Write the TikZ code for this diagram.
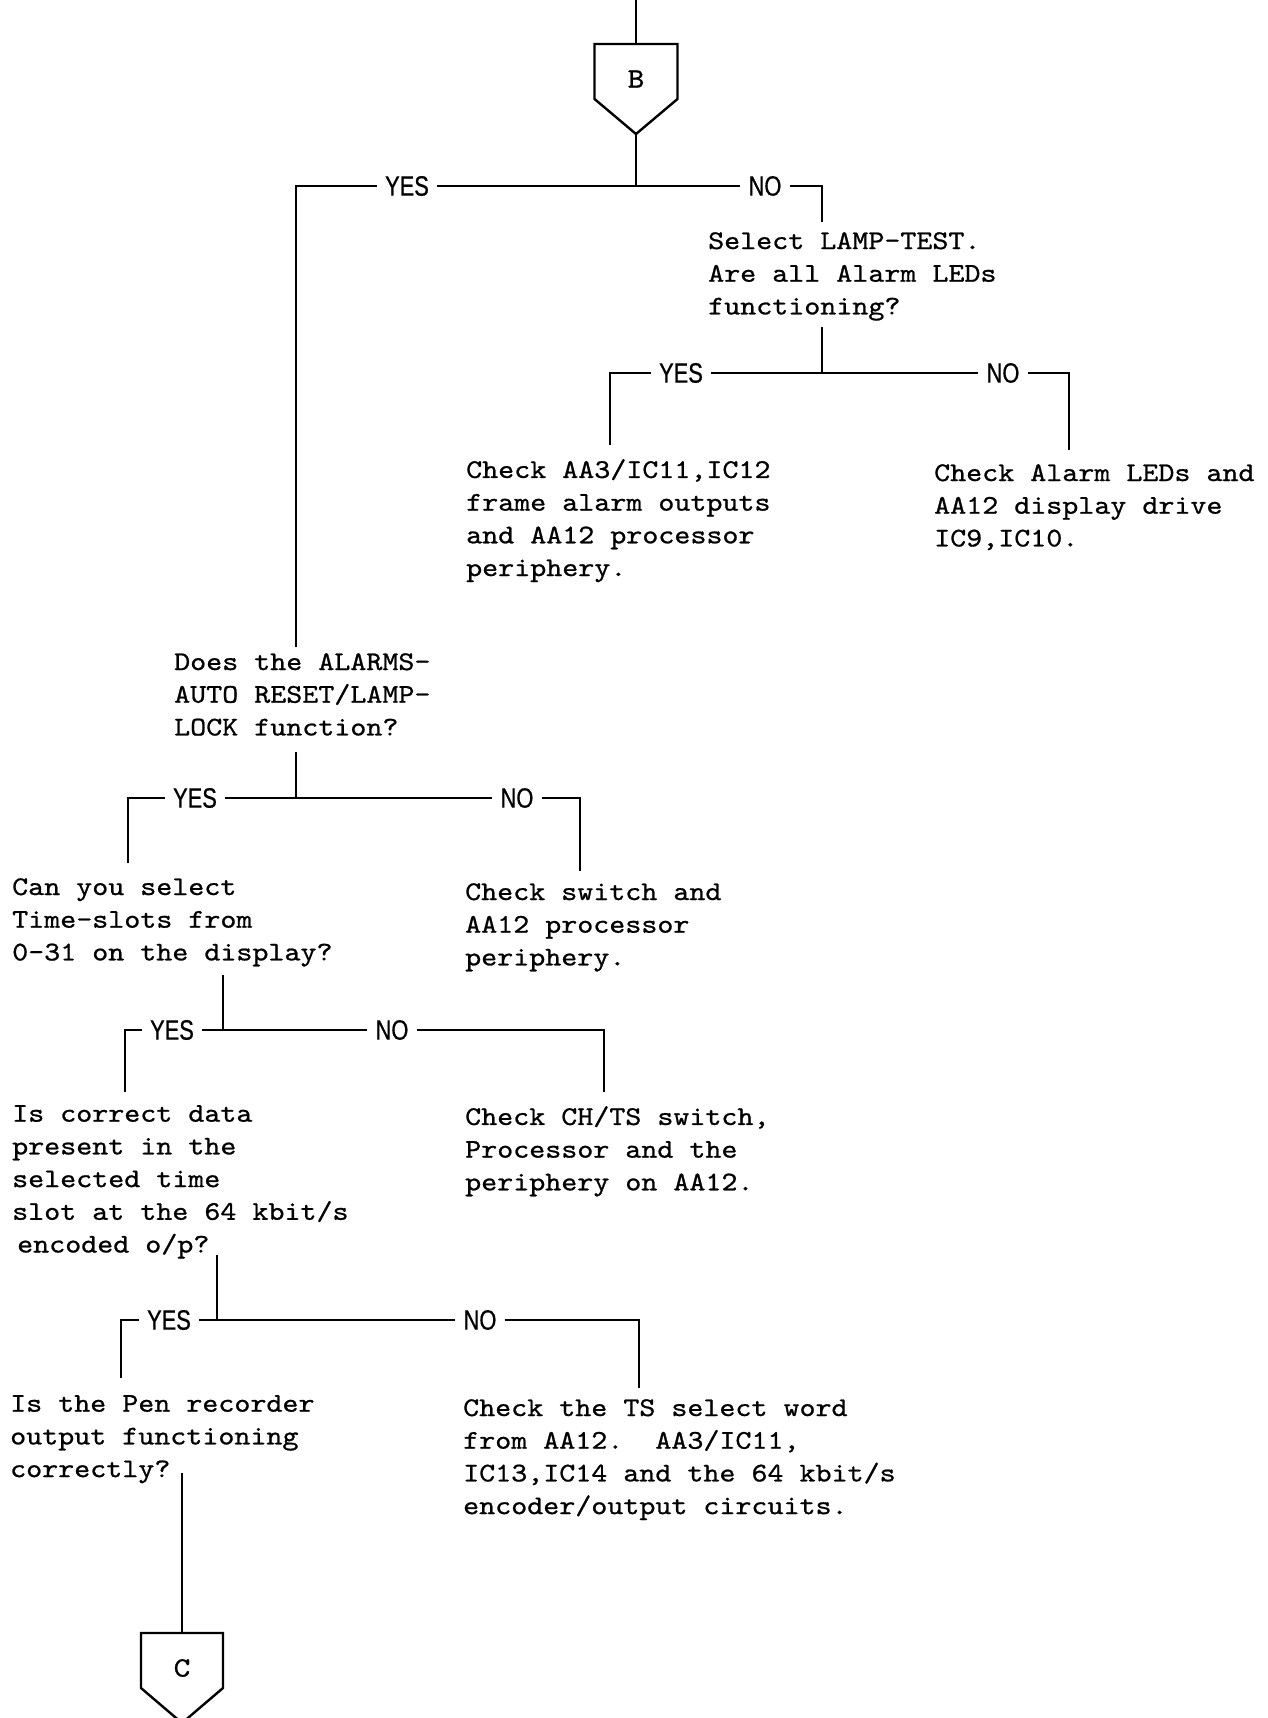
\documentclass[tikz,border=0pt]{standalone}
\usepackage{fontspec}
\newfontfamily\twfont{lmmono10-regular.otf}[FakeBold=0.8,FakeStretch=1.13]
\newfontfamily\ynfont{Liberation Sans}[FakeStretch=0.78,FakeBold=0.6]

\begin{document}
\begin{tikzpicture}[x=1pt,y=-1pt,line width=2.4pt,
  txt/.style={font=\twfont\fontsize{27}{32.7}\selectfont,align=left,anchor=north west,inner sep=0pt},
  yn/.style={font=\ynfont\fontsize{28}{30}\selectfont,inner xsep=7pt,inner ysep=1pt},
  conn/.style={font=\twfont\fontsize{28}{30}\selectfont,inner sep=0pt}]

\useasboundingbox (0,0) rectangle (1268,1718);
\fill[white] (0,0) rectangle (1268,1718);

% ---- entry connector B ----
\node[conn] (B) at (636,79) {B};
\coordinate (Bin) at (636,0);
\coordinate (Btop) at (636,44);
\coordinate (Btip) at (636,134);
\draw (Bin) -- (Btop);
\draw (594.5,44) -- (594.5,99) -- (Btip) -- (677.5,99) -- (677.5,44) -- cycle;

% ---- branch 1 ----
\coordinate (j1) at (636,186);
\coordinate (L1) at (296,186);  \coordinate (L1e) at (296,647);
\coordinate (R1) at (822,186);  \coordinate (R1e) at (822,222);
\node[yn] (yes1) at (407,186) {YES};
\node[yn] (no1) at (765,186) {NO};
\draw (Btip) -- (j1);
\draw (L1e) -- (L1) -- (yes1) -- (j1) -- (no1) -- (R1) -- (R1e);

\node[txt] (sel) at (707,231) {Select LAMP-TEST.\\Are all Alarm LEDs\\functioning?};

% ---- branch 2 ----
\coordinate (s2) at (822,327);
\coordinate (j2) at (822,373);
\coordinate (L2) at (610,373);  \coordinate (L2e) at (610,445);
\coordinate (R2) at (1069,373); \coordinate (R2e) at (1069,450);
\node[yn] (yes2) at (681,373) {YES};
\node[yn] (no2) at (1003,373) {NO};
\draw (s2) -- (j2);
\draw (L2e) -- (L2) -- (yes2) -- (j2) -- (no2) -- (R2) -- (R2e);

\node[txt] (chkA) at (465,458) {Check AA3/IC11,IC12\\frame alarm outputs\\and AA12 processor\\periphery.};
\node[txt] (chkL) at (933,463) {Check Alarm LEDs and\\AA12 display drive\\IC9,IC10.};

% ---- branch 3 ----
\node[txt] (alarms) at (173,652) {Does the ALARMS-\\AUTO RESET/LAMP-\\LOCK function?};
\coordinate (s3) at (296,752);
\coordinate (j3) at (296,798);
\coordinate (L3) at (128,798);  \coordinate (L3e) at (128,863);
\coordinate (R3) at (580,798);  \coordinate (R3e) at (580,871);
\node[yn] (yes3) at (195,798) {YES};
\node[yn] (no3) at (517,798) {NO};
\draw (s3) -- (j3);
\draw (L3e) -- (L3) -- (yes3) -- (j3) -- (no3) -- (R3) -- (R3e);

\node[txt] (canyou) at (11,877) {Can you select\\Time-slots from\\0-31 on the display?};
\node[txt] (chkSw) at (464,882) {Check switch and\\AA12 processor\\periphery.};

% ---- branch 4 ----
\coordinate (s4) at (223,975);
\coordinate (j4) at (223,1030);
\coordinate (L4) at (125,1030); \coordinate (L4e) at (125,1092);
\coordinate (R4) at (604,1030); \coordinate (R4e) at (604,1092);
\node[yn] (yes4) at (172,1030) {YES};
\node[yn] (no4) at (392,1030) {NO};
\draw (s4) -- (j4);
\draw (L4e) -- (L4) -- (yes4) -- (j4) -- (no4) -- (R4) -- (R4e);

\node[txt] (correct) at (11,1104) {Is correct data\\present in the\\selected time\\slot at the 64 kbit/s\\\hspace*{5pt}encoded o/p?};
\node[txt] (chkCH) at (464,1105) {Check CH/TS switch,\\Processor and the\\periphery on AA12.};

% ---- branch 5 ----
\coordinate (s5) at (217,1255);
\coordinate (j5) at (217,1320);
\coordinate (L5) at (121,1320); \coordinate (L5e) at (121,1378);
\coordinate (R5) at (639,1320); \coordinate (R5e) at (639,1388);
\node[yn] (yes5) at (169,1320) {YES};
\node[yn] (no5) at (480,1320) {NO};
\draw (s5) -- (j5);
\draw (L5e) -- (L5) -- (yes5) -- (j5) -- (no5) -- (R5) -- (R5e);

\node[txt] (pen) at (9,1394) {Is the Pen recorder\\output functioning\\correctly?};
\node[txt] (chkTS) at (462,1398) {Check the TS select word\\from AA12.\ \ AA3/IC11,\\IC13,IC14 and the 64 kbit/s\\encoder/output circuits.};

% ---- exit connector C ----
\coordinate (s6) at (182,1473);
\coordinate (Ctop) at (182,1633);
\node[conn] (C) at (182,1668) {C};
\draw (s6) -- (Ctop);
\draw (141,1633) -- (141,1688) -- (182,1723) -- (223,1688) -- (223,1633) -- cycle;

\end{tikzpicture}
\end{document}
